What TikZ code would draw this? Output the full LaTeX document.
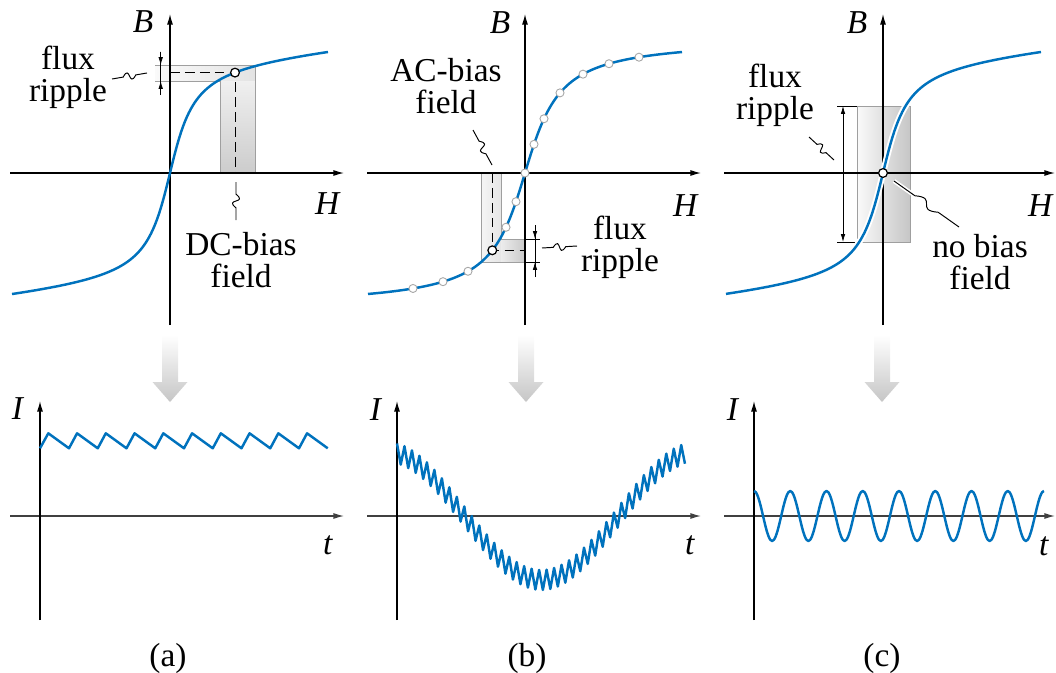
\documentclass[tikz,border=0pt]{standalone}
\usepackage{fontspec}
\setmainfont{Liberation Serif}
\usetikzlibrary{arrows.meta,calc}
\definecolor{bhblue}{RGB}{0,114,189}

\begin{document}
\begin{tikzpicture}[x=0.02cm,y=-0.02cm,>={Latex[length=6pt,width=3.4pt]},
  every node/.style={font=\fontsize{19}{18}\selectfont},
  axis/.style={line width=0.7pt,->},
  bh/.style={bhblue,line width=1.4pt,line join=round},
  halo/.style={white,line width=3.6pt},
  band/.style={draw=gray!75,line width=0.4pt},
  guide/.style={line width=0.55pt,dash pattern=on 5.5pt off 3pt},
  dim/.style={line width=0.45pt},
  dimtip/.style={line width=0.45pt,-{Latex[length=4.5pt,width=2.6pt]}},
  pt/.style={circle,draw=black,fill=white,line width=0.7pt,inner sep=0pt,minimum size=5pt},
  ptb/.style={pt,draw=gray!70,line width=0.5pt,minimum size=4.6pt},
  leader/.style={line width=0.55pt,to path={-- ($(\tikztostart)!0.32!(\tikztotarget)$)
    .. controls ($(\tikztostart)!0.58!(\tikztotarget)!7pt!90:(\tikztotarget)$)
    and ($(\tikztostart)!0.42!(\tikztotarget)!7pt!-90:(\tikztotarget)$)
    .. ($(\tikztostart)!0.68!(\tikztotarget)$) -- (\tikztotarget)}},
  lbl/.style={align=center,inner sep=1pt}]
\useasboundingbox (0,0) rectangle (1056,673);

% (a) DC bias
\shade[left color=gray!4,right color=gray!22] (155,65) rectangle (255,81);
\shade[top color=gray!12,bottom color=gray!40] (220,81) rectangle (255,173);
\draw[band] (155,65) -- (255,65) -- (255,173) (220,173) -- (220,81) -- (155,81);
\draw[axis] (10,173) -- (344,173);
\draw[axis] (170,325) -- (170,14);
\coordinate (opa) at (235,72.6);
\draw[guide] (170,72.6) -- (opa) -- (235,173);
\draw[bh] plot[domain=-158:158,samples=160] ({170+\x},{173-72.2*rad(atan(\x/18))-0.1*\x});
\node[pt] (opadot) at (opa) {};
\draw[dim] (160.7,51.7) -- (160.7,95);
\draw[dimtip] (160.7,51.7) -- (160.7,65);
\draw[dimtip] (160.7,95) -- (160.7,81);
\node (Ba) at (143,22) {\textit{B}};
\node (Ha) at (328,204) {\textit{H}};
\node[lbl] (ripa) at (68,77) {flux\\ripple};
\node[lbl] (dca) at (241,260) {DC-bias\\field};
\coordinate (ripa0) at (112,79); \coordinate (ripa1) at (147,73);
\coordinate (dca0) at (236,220); \coordinate (dca1) at (236,182);
\draw[leader] (ripa0) to (ripa1);
\draw[leader] (dca0) to (dca1);

% (b) AC bias
\shade[left color=gray!8,right color=gray!20] (481,173) rectangle (501,262);
\shade[left color=gray!15,right color=gray!42] (501,239) rectangle (525,262);
\draw[band] (481,173) -- (481,262) -- (525,262) (501,173) -- (501,239) -- (525,239);
\draw[dim] (525,239) -- (540,239) (525,262) -- (540,262);
\draw[axis] (367,173) -- (701,173);
\draw[axis] (525,325) -- (525,14);
\coordinate (opb) at (492.3,250.3);
\draw[guide] (492.3,173) -- (opb) -- (525,250.3);
\draw[bh] plot[domain=-157:157,samples=160] ({525+\x},{173-86*rad(atan(\x/26))});
\foreach \h [count=\i] in {-112,-82,-57,-19,-9,0,9,19,35,58,84,114}
  \node[ptb] (bpt\i) at ({525+\h},{173-86*rad(atan(\h/26))}) {};
\node[pt] (opbdot) at (opb) {};
\draw[dim] (535,225) -- (535,277);
\draw[dimtip] (535,225) -- (535,239);
\draw[dimtip] (535,277) -- (535,262);
\node (Bb) at (500,23) {\textit{B}};
\node (Hb) at (686,206) {\textit{H}};
\node[lbl] (acb) at (446,86) {AC-bias\\field};
\node[lbl] (ripb) at (620,247) {flux\\ripple};
\coordinate (acb0) at (473,130); \coordinate (acb1) at (492,165);
\coordinate (ripb0) at (577,246); \coordinate (ripb1) at (542,248);
\draw[leader] (acb0) to (acb1);
\draw[leader] (ripb0) to (ripb1);

% (c) no bias
\shade[left color=gray!4,right color=gray!45] (857,106) rectangle (910,242);
\draw[band] (857,106) rectangle (910,242);
\draw[dim] (837,106) -- (857,106) (837,242) -- (857,242);
\draw[dim,{Latex[length=4.5pt,width=2.6pt]}-{Latex[length=4.5pt,width=2.6pt]}] (843,106) -- (843,242);
\draw[axis] (724,173) -- (1055,173);
\draw[axis] (883,325) -- (883,14);
\draw[halo] plot[domain=-157:158,samples=160] ({883+\x},{173-72.2*rad(atan(\x/18))-0.1*\x});
\draw[bh] plot[domain=-157:158,samples=160] ({883+\x},{173-72.2*rad(atan(\x/18))-0.1*\x});
\node[pt] (opc) at (883,173) {};
\node (Bc) at (857,23) {\textit{B}};
\node (Hc) at (1041,206) {\textit{H}};
\node[lbl] (ripc) at (775,95) {flux\\ripple};
\node[lbl] (nbc) at (980,262) {no bias\\field};
\coordinate (ripc0) at (809,137); \coordinate (ripc1) at (834,160);
\coordinate (nbc0) at (959,227); \coordinate (nbc1) at (894,181);
\draw[leader] (ripc0) to (ripc1);
\draw[leader,white,line width=2.4pt] (nbc0) to (nbc1);
\draw[leader] (nbc0) to (nbc1);

% arrows down
\foreach \x in {170,526,882}
  \shade[top color=white,bottom color=gray!45] ({\x-8},335) -- ({\x+8},335) -- ({\x+8},382)
    -- ({\x+17.5},382) -- (\x,402) -- ({\x-17.5},382) -- ({\x-8},382) -- cycle;

% current waveforms
\draw[axis,black!75] (10,516) -- (344,516);
\draw[axis] (40,620) -- (40,401);
\draw[bh] (40,448.3) \foreach \k in {0,...,9} { -- ({48.3+28.75*\k},433.3) -- ({69+28.75*\k},448.3) };
\node (Ia) at (18,409) {\textit{I}};
\node (ta) at (328,545) {\textit{t}};
\node (capa) at (168,658) {(a)};

\draw[axis,black!75] (367,516) -- (701,516);
\draw[axis] (397,620) -- (397,401);
\draw[bh] plot[domain=0:77,samples=78] ({397+3.74*\x},{516-64*cos(1.1613*(10.5+3.74*\x))-10*cos(180*\x)});
\node (Ib) at (376,410) {\textit{I}};
\node (tb) at (690,545) {\textit{t}};
\node (capb) at (527,658) {(b)};

\draw[axis,black!75] (724,516) -- (1055,516);
\draw[axis] (754,620) -- (754,401);
\draw[bh] plot[domain=0:8,samples=161,smooth] ({754+36.25*\x},{516-25*cos(360*\x)});
\node (Ic) at (733,410) {\textit{I}};
\node (tc) at (1044,546) {\textit{t}};
\node (capc) at (882,658) {(c)};
\end{tikzpicture}
\end{document}
